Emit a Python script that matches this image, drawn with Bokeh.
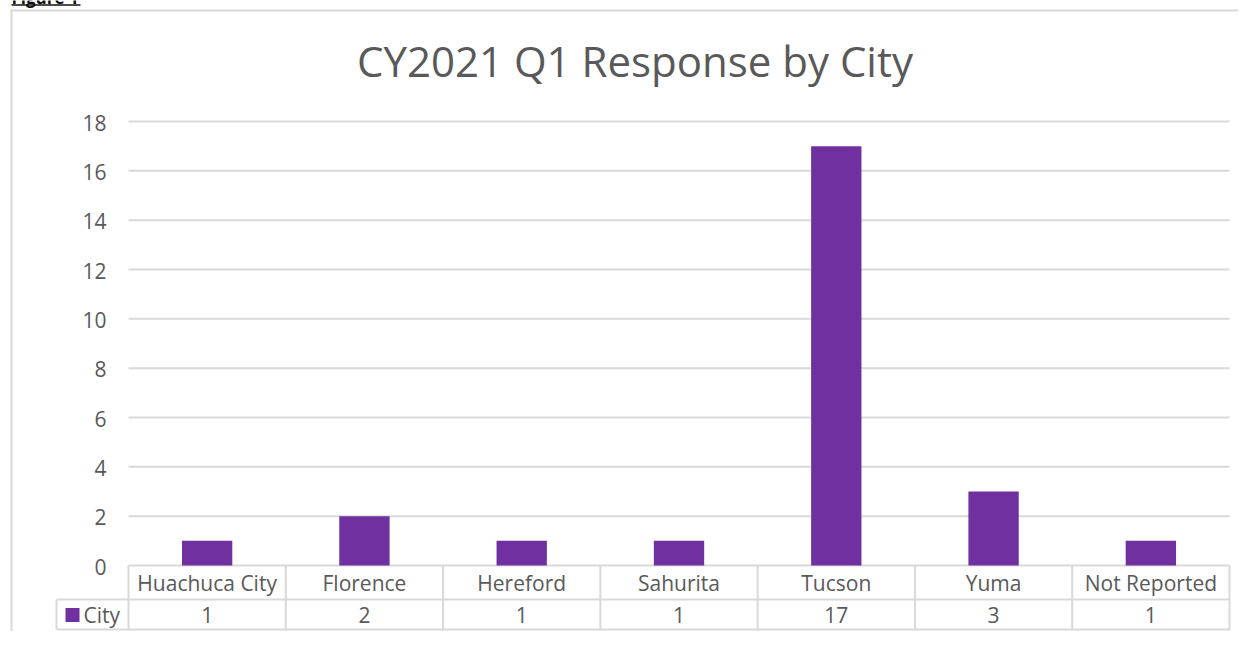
from bokeh.plotting import figure
from bokeh.models import Range1d
from bokeh.core.properties import value
from bokeh.embed import file_html
from bokeh.resources import INLINE

# ---- data ----
title_text = "CY2021 Q1 Response by City"
caption_text = "Figure 1"
categories = ["Huachuca City", "Florence", "Hereford", "Sahurita", "Tucson", "Yuma", "Not Reported"]
counts = [1, 2, 1, 1, 17, 3, 1]
series_name = "City"
y_ticks = [0, 2, 4, 6, 8, 10, 12, 14, 16, 18]

# ---- layout (figure pixel coordinates) ----
W, H = 1238, 631
PL, PR = 128, 1229      # plot area left / right
PT, PB = 121, 565       # y max / y=0 pixel rows
ROW1 = 599              # bottom of category row
ROW2 = 630              # bottom of value row
LEG_L = 56              # left of legend cell
YMAX = y_ticks[-1]
n = len(categories)
colw = (PR - PL) / n
ppu = (PB - PT) / YMAX

def X(px):
    return -0.5 + (px - PL) / colw

def Y(py):
    return (PB - py) / ppu

FONT = value("Open Sans")
TXT = "#595959"
GRID = "#d9d9d9"
BAR = "#7030a0"
FS = "21px"

p = figure(width=W, height=H, output_backend="svg", toolbar_location=None,
           x_axis_type=None, y_axis_type=None, min_border=0,
           x_range=Range1d(X(0), X(W)), y_range=Range1d(Y(H), Y(0)))
p.grid.visible = False
p.outline_line_color = None
p.background_fill_color = "white"
p.border_fill_color = "white"

xs = list(range(n))

# caption above the chart (cut off at top, as in the source)
p.text(x=[X(11)], y=[Y(-3)], text=[caption_text], text_align="left", text_baseline="middle",
       text_font=FONT, text_font_size="17px", text_color="#111111", text_font_style="bold")
p.segment(x0=[X(11)], y0=[Y(4.5)], x1=[X(80)], y1=[Y(4.5)], line_color="#111111", line_width=1.5)

# outer chart border (left and top)
p.segment(x0=[X(11), X(10)], y0=[Y(10), Y(10)], x1=[X(11), X(W)], y1=[Y(H), Y(10)],
          line_color=GRID, line_width=2)

# gridlines
p.segment(x0=[-0.5] * len(y_ticks), y0=y_ticks, x1=[n - 0.5] * len(y_ticks), y1=y_ticks,
          line_color=GRID, line_width=2)

# bars
p.vbar(x=xs, top=counts, width=0.32, bottom=0, fill_color=BAR, line_color=None)

# y tick labels
p.text(x=[X(PL - 22)] * len(y_ticks), y=[t - 1 / ppu for t in y_ticks], text=[str(t) for t in y_ticks],
       text_align="right", text_baseline="middle", text_font=FONT,
       text_font_size=FS, text_color=TXT)

# title
p.text(x=[X(634.5)], y=[Y(59.5)], text=[title_text], text_align="center",
       text_baseline="middle", text_font=FONT, text_font_size="42px", text_color=TXT)

# data table lines
bounds = [k - 0.5 for k in range(n + 1)]
p.segment(x0=bounds, y0=[0] * len(bounds), x1=bounds, y1=[Y(ROW2)] * len(bounds),
          line_color=GRID, line_width=2)
p.segment(x0=[X(LEG_L), X(LEG_L), X(LEG_L)], y0=[Y(ROW1), Y(ROW2 - 1), Y(ROW1)],
          x1=[n - 0.5, n - 0.5, X(LEG_L)], y1=[Y(ROW1), Y(ROW2 - 1), Y(ROW2 - 1)],
          line_color=GRID, line_width=2)

# category names
p.text(x=xs, y=[Y(582.5)] * n, text=categories, text_align="center",
       text_baseline="middle", text_font=FONT, text_font_size=FS, text_color=TXT)
# values
p.text(x=xs, y=[Y(614.5)] * n, text=[str(c) for c in counts], text_align="center",
       text_baseline="middle", text_font=FONT, text_font_size=FS, text_color=TXT)

# legend key in table
p.rect(x=[X(72)], y=[Y(614.5)], width=14, height=14, width_units="screen", height_units="screen",
       fill_color=BAR, line_color=None)
p.text(x=[X(83)], y=[Y(614.5)], text=[series_name], text_align="left", text_baseline="middle",
       text_font=FONT, text_font_size=FS, text_color=TXT)

open("out.html", "w").write(file_html(p, INLINE))
